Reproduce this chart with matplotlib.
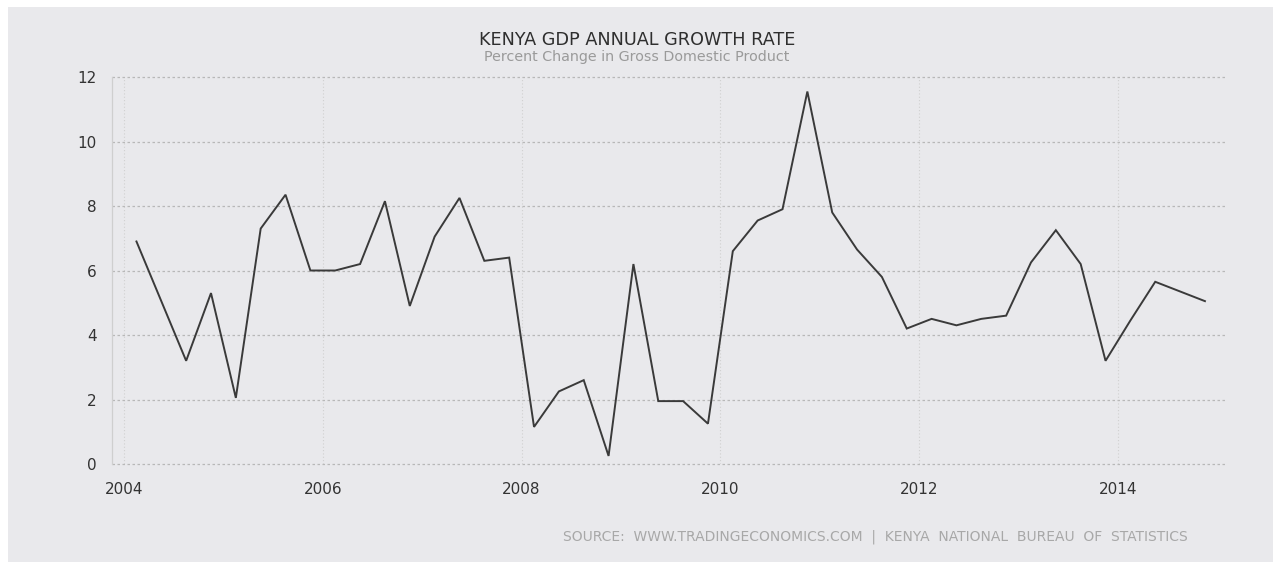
import matplotlib
matplotlib.use("Agg")
import matplotlib.pyplot as plt
from matplotlib.patches import Rectangle

# Quarterly data, 2004 Q1 .. 2014 Q4
start_year = 2004
growth = [6.9, 5.05, 3.2, 5.3,
          2.05, 7.3, 8.35, 6.0,
          6.0, 6.2, 8.15, 4.9,
          7.05, 8.25, 6.3, 6.4,
          1.15, 2.25, 2.6, 0.25,
          6.2, 1.95, 1.95, 1.25,
          6.6, 7.55, 7.9, 11.55,
          7.8, 6.65, 5.8, 4.2,
          4.5, 4.3, 4.5, 4.6,
          6.25, 7.25, 6.2, 3.2,
          4.45, 5.65, 5.35, 5.05]
year_ticks = [2004, 2006, 2008, 2010, 2012, 2014]
y_ticks = [0, 2, 4, 6, 8, 10, 12]
title = "KENYA GDP ANNUAL GROWTH RATE"
subtitle = "Percent Change in Gross Domestic Product"
source = "SOURCE:  WWW.TRADINGECONOMICS.COM  |  KENYA  NATIONAL  BUREAU  OF  STATISTICS"

x = [start_year + 0.125 + 0.25 * i for i in range(len(growth))]

W, H = 1273, 562
fig = plt.figure(figsize=(W / 100, H / 100), dpi=100)
fig.patch.set_facecolor("white")
bg = "#e9e9ec"
fig.patches.append(Rectangle((8 / W, 0), 1 - 8 / W, 1 - 7 / H, transform=fig.transFigure,
                             facecolor=bg, edgecolor="none", zorder=-10))

ax = fig.add_axes([112 / W, 1 - 464 / H, (1227 - 112) / W, (464 - 77) / H])
ax.set_facecolor("none")
ax.plot(x, growth, color="#3a3a3a", lw=1.4, solid_joinstyle="miter", zorder=3)

ax.set_xlim(2003.879, 2015.097)
ax.set_ylim(0, 12)
ax.set_xticks(year_ticks)
ax.set_xticklabels([str(v) for v in year_ticks])
ax.set_yticks(y_ticks)
ax.grid(True, axis="y", color="#b8b8b8", lw=0.9, ls=(0, (2, 2)))
ax.grid(True, axis="x", color="#d0d0d0", lw=0.8, ls=(0, (1, 2)))
for gl in ax.get_ygridlines():
    gl.set_clip_on(False)
for s in ["top", "right", "bottom"]:
    ax.spines[s].set_visible(False)
ax.spines["left"].set_color("#cfcfcf")
ax.spines["left"].set_linewidth(0.9)
ax.tick_params(axis="both", length=0, labelsize=11, labelcolor="#333333")
ax.tick_params(axis="x", pad=13)
ax.tick_params(axis="y", pad=11)

fig.text(637 / W, 1 - 40 / H, title, ha="center", va="center", fontsize=12.7,
         color="#2f2f2f")
fig.text(637 / W, 1 - 57 / H, subtitle, ha="center", va="center", fontsize=10.3,
         color="#9a9a9a")
fig.text(1188 / W, 1 - 537 / H, source, ha="right", va="center", fontsize=10,
         color="#a8a8a8")

fig.savefig("out.png", dpi=100, facecolor=fig.get_facecolor())
